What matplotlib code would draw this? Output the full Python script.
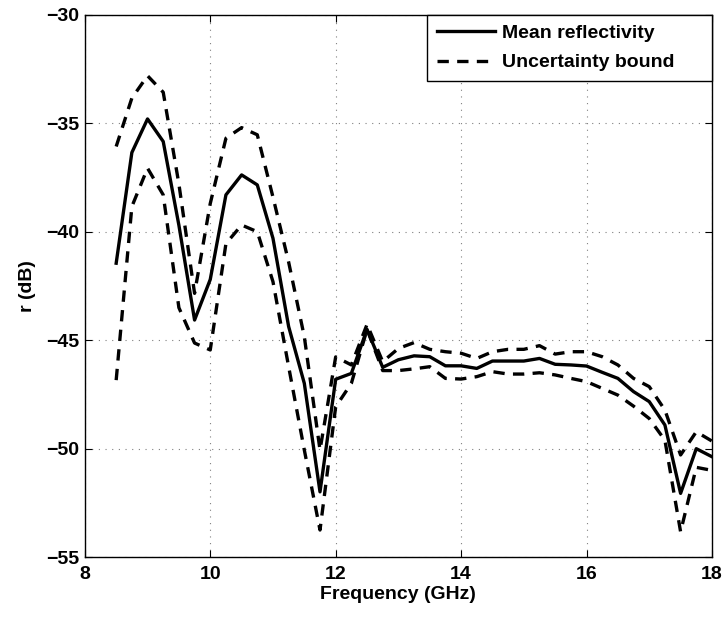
import numpy as np
import matplotlib
matplotlib.use("Agg")
import matplotlib.pyplot as plt

freq = np.arange(8.5, 18.001, 0.25)

mean_r = [-41.45, -36.35, -34.8, -35.84, -39.7, -44.07, -42.2, -38.3, -37.38, -37.84,
          -40.3, -44.37, -46.99, -51.99, -46.8, -46.53, -44.5, -46.25, -45.9,
          -45.72, -45.76, -46.18, -46.18, -46.3, -45.96, -45.96, -45.96, -45.84,
          -46.11, -46.14, -46.19, -46.48, -46.76, -47.37, -47.83, -48.91, -52.06,
          -50.0, -50.37]

upper_r = [-36.07, -33.84, -32.81, -33.57, -37.8, -42.84, -38.7, -35.69, -35.2, -35.53,
           -38.4, -41.4, -44.84, -50.06, -45.77, -46.14, -44.27, -45.99, -45.38,
           -45.11, -45.42, -45.53, -45.6, -45.84, -45.53, -45.42, -45.42, -45.25,
           -45.64, -45.53, -45.53, -45.76, -46.14, -46.76, -47.14, -48.22, -50.29,
           -49.22, -49.65]

lower_r = [-46.84, -38.84, -37.07, -38.3, -43.5, -45.13, -45.45, -40.55, -39.69, -40.0,
           -42.3, -46.22, -50.06, -53.75, -48.07, -46.99, -44.5, -46.4, -46.4,
           -46.32, -46.22, -46.76, -46.79, -46.68, -46.45, -46.56, -46.56, -46.5,
           -46.6, -46.76, -46.91, -47.22, -47.53, -48.04, -48.61, -49.61, -53.83,
           -50.86, -51.0]

xticks = [8, 10, 12, 14, 16, 18]
yticks = [-55, -50, -45, -40, -35, -30]

plt.rcParams['font.family'] = ['Liberation Sans', 'DejaVu Sans']
plt.rcParams['font.weight'] = 'bold'

FS = 14
fig = plt.figure(figsize=(7.25, 6.17), dpi=100)
ax = fig.add_axes([0.117, 0.097, 0.865, 0.879])

dash = (0, (3.4, 2.5))
ax.plot(freq, mean_r, color='black', lw=2.4, label='Mean reflectivity')
ax.plot(freq, upper_r, color='black', lw=2.4, ls=dash, label='Uncertainty bound')
ax.plot(freq, lower_r, color='black', lw=2.4, ls=dash)

ax.set_xlim(8, 18)
ax.set_ylim(-55, -30)
ax.set_xticks(xticks)
ax.set_yticks(yticks)
ax.set_xticklabels([str(t) for t in xticks], fontsize=FS, fontweight='bold')
ax.set_yticklabels([('\u2212' + str(-t)) if t < 0 else str(t) for t in yticks], fontsize=FS, fontweight='bold')
ax.tick_params(axis='x', direction='in', top=True, length=5, width=0.8, pad=6.5)
ax.tick_params(axis='y', direction='in', right=True, length=5, width=0.8, pad=4)
ax.grid(True, color='gray', ls=(0, (1, 5)), lw=0.8)
for s in ax.spines.values():
    s.set_linewidth(1.0)

ax.set_xlabel('Frequency (GHz)', fontsize=FS, fontweight='bold', labelpad=2)
ax.set_ylabel('r (dB)', fontsize=FS, fontweight='bold', labelpad=7)

leg = ax.legend(loc='upper left', bbox_to_anchor=(0.5455, 0.88, 0.4545, 0.12),
                mode='expand', fontsize=FS, frameon=True, fancybox=False,
                edgecolor='black', framealpha=1, borderaxespad=0,
                handlelength=3.0, handletextpad=0.35, borderpad=0.5,
                labelspacing=0.6)
leg.get_frame().set_linewidth(1.0)
for t in leg.get_texts():
    t.set_fontweight('bold')

fig.savefig('out.png', dpi=100)
